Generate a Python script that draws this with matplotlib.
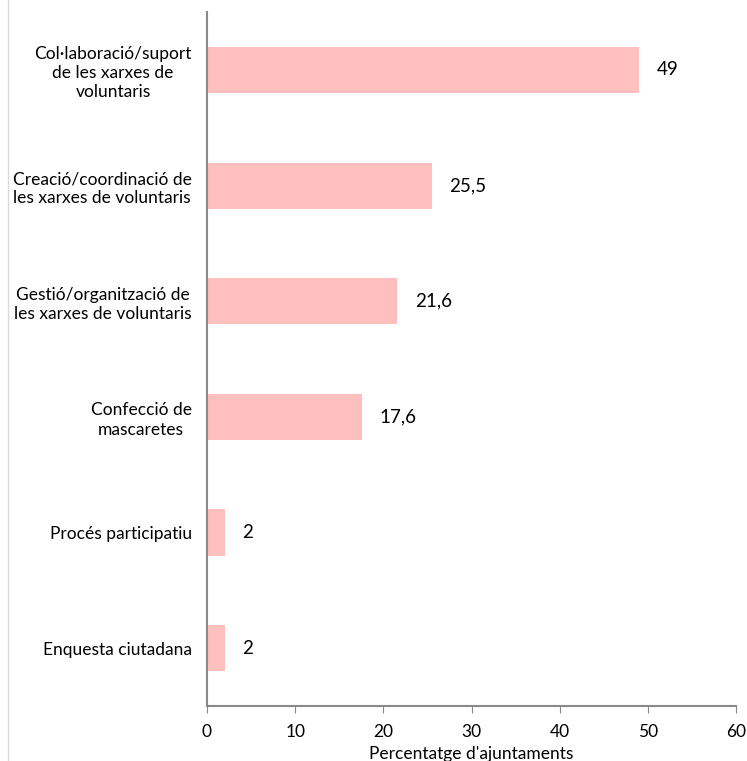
import matplotlib.pyplot as plt
from matplotlib.lines import Line2D

categories = [
    "Col·laboració/suport\nde les xarxes de\nvoluntaris",
    "Creació/coordinació de\nles xarxes de voluntaris",
    "Gestió/organització de\nles xarxes de voluntaris",
    "Confecció de\nmascaretes",
    "Procés participatiu",
    "Enquesta ciutadana",
]
values = [49, 25.5, 21.6, 17.6, 2, 2]
value_labels = ["49", "25,5", "21,6", "17,6", "2", "2"]
xticks = [0, 10, 20, 30, 40, 50, 60]


def main():
    plt.rcParams['font.family'] = ['Lato', 'DejaVu Sans']
    fig = plt.figure(figsize=(7.47, 7.61), dpi=100)
    ax = fig.add_axes([0.2771, 0.0723, 0.7082, 0.9117])

    pos = list(range(len(categories)))
    ax.barh(pos, values, height=0.4, color='#FFBFBF')
    for p, v, t in zip(pos, values, value_labels):
        ax.text(v + 2, p, t, va='center', ha='left', fontsize=13.5)

    ax.set_ylim(len(categories) - 0.5, -0.5)
    ax.set_xlim(0, 60)
    ax.set_yticks(pos)
    ax.set_yticklabels(categories, multialignment='center', fontsize=12.5,
                       linespacing=1.25)
    ax.tick_params(axis='y', length=0, pad=11)
    ax.set_xticks(xticks)
    ax.tick_params(axis='x', labelsize=12.5, length=5, color='#898989', pad=8)
    ax.set_xlabel("Percentatge d'ajuntaments", fontsize=12.5, labelpad=4)

    for s in ['top', 'right']:
        ax.spines[s].set_visible(False)
    for s in ['left', 'bottom']:
        ax.spines[s].set_color('#898989')
        ax.spines[s].set_linewidth(1.5)

    # faint chart border on the left
    fig.add_artist(Line2D([8 / 747, 8 / 747], [0, 1], color='#D9D9D9', lw=1))

    fig.savefig('out.png', dpi=100)


if __name__ == '__main__':
    main()
